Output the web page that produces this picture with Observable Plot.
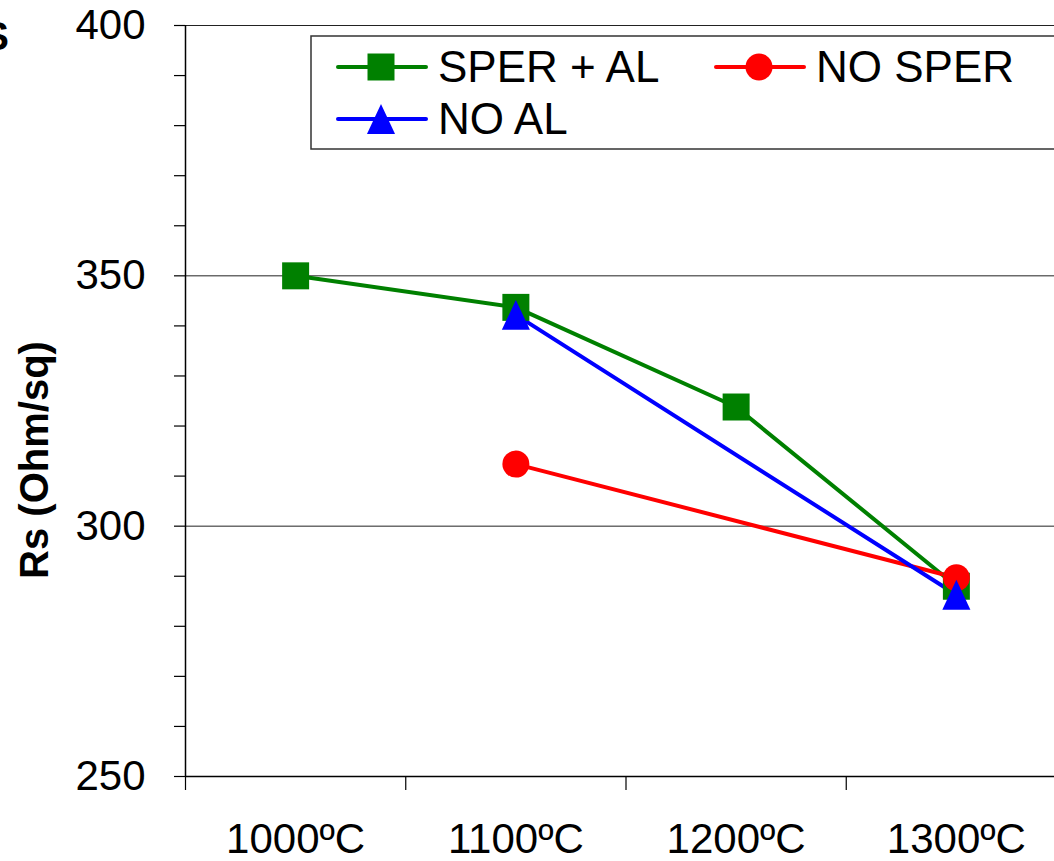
<!DOCTYPE html>
<html>
<head>
<meta charset="utf-8">
<script src="https://cdn.jsdelivr.net/npm/d3@7"></script>
<script src="https://cdn.jsdelivr.net/npm/@observablehq/plot@0.6"></script>
<style>
  html, body { margin: 0; padding: 0; background: #fff; overflow: hidden; }
  #chart { position: relative; width: 1054px; height: 861px; overflow: hidden; }
  #chart svg { max-width: none !important; width: 1066px; height: 861px; display: block; }
</style>
</head>
<body>
<div id="chart"></div>
<script>
// ---- data ----
const temps = ["1000ºC", "1100ºC", "1200ºC", "1300ºC"];
const seriesNames = ["SPER + AL", "NO SPER", "NO AL"];
const seriesColors = ["#008000", "#ff0000", "#0000ff"];
const sperAl = [350.0, 343.7, 323.8, 288.0];
const noSper = [null, 312.4, null, 289.7];
const noAl   = [null, 342.2, null, 286.3];
const yLabelTicks = [250, 300, 350, 400];
const gridValues = [300, 350, 400];
const yTitle = "Rs (Ohm/sq)";

// ---- custom symbols (size = π r²) ----
const symSquare = {draw(ctx, size) { const r = Math.sqrt(size / Math.PI); ctx.rect(-r, -r, 2 * r, 2 * r); }};
const symCircle = {draw(ctx, size) { const r = Math.sqrt(size / Math.PI); ctx.moveTo(r, 0); ctx.arc(0, 0, r, 0, 2 * Math.PI); }};
const symTriangle = {draw(ctx, size) { const r = Math.sqrt(size / Math.PI);
  ctx.moveTo(0, -1.11 * r); ctx.lineTo(1.04 * r, 1.11 * r); ctx.lineTo(-1.04 * r, 1.11 * r); ctx.closePath(); }};
const seriesSymbols = [symSquare, symCircle, symTriangle];

const seriesValues = [sperAl, noSper, noAl];
const rows = [];
seriesNames.forEach((name, s) => {
  seriesValues[s].forEach((v, i) => {
    if (v != null) rows.push({series: name, idx: i + 0.5, temp: temps[i], value: v});
  });
});

const font = "'Liberation Sans', Arial, sans-serif";
const R = 13.5;

const chart = Plot.plot({
  width: 1066,
  height: 861,
  marginLeft: 185,
  marginRight: 0,
  marginTop: 25,
  marginBottom: 85,
  style: {fontFamily: font, background: "#fff", color: "#000", maxWidth: "none"},
  x: {type: "linear", domain: [0, temps.length]},
  y: {domain: [250, 400]},
  color: {domain: seriesNames, range: seriesColors},
  symbol: {domain: seriesNames, range: seriesSymbols},
  marks: [
    Plot.ruleY(gridValues, {stroke: "#222", strokeWidth: 1}),
    Plot.axisY({
      ticks: d3.range(250, 401, 10),
      tickSize: 11,
      tickPadding: 29,
      tickFormat: d => yLabelTicks.includes(d) ? String(d) : "",
      fontSize: 42,
      label: null,
      strokeWidth: 1.2
    }),
    Plot.axisX({
      ticks: d3.range(0, temps.length),
      tickSize: 14,
      tickFormat: () => "",
      label: null,
      strokeWidth: 1.2
    }),
    Plot.axisX({
      ticks: temps.map((t, i) => i + 0.5),
      tickSize: 0,
      tickPadding: 47,
      tickFormat: d => temps[Math.round(d - 0.5)],
      fontSize: 42,
      label: null
    }),
    Plot.ruleX([0], {stroke: "#000", strokeWidth: 1.5}),
    Plot.ruleY([250], {stroke: "#000", strokeWidth: 1.5}),
    Plot.line(rows, {x: "idx", y: "value", z: "series", stroke: "series", strokeWidth: 4}),
    Plot.dot(rows, {x: "idx", y: "value", fill: "series", symbol: "series", r: R, stroke: null})
  ]
});

document.getElementById("chart").appendChild(chart);

// ---- extras: y title, clipped title fragment, legend ----
const svg = d3.select(chart);
svg.append("text")
  .attr("transform", "translate(34,460) rotate(-90)")
  .attr("text-anchor", "middle")
  .attr("dy", "0.35em")
  .style("font-family", font)
  .style("font-weight", "bold")
  .style("font-size", "40px")
  .text(yTitle);

svg.append("text")
  .attr("x", 9).attr("y", 50)
  .attr("text-anchor", "end")
  .style("font-family", font)
  .style("font-weight", "bold")
  .style("font-size", "40px")
  .text("S");

const lg = svg.append("g");
lg.append("rect")
  .attr("x", 311).attr("y", 36).attr("width", 800).attr("height", 113)
  .attr("fill", "#fff").attr("stroke", "#333").attr("stroke-width", 1.5);
const legendPos = [[338, 67], [716, 67], [338, 119]];
seriesNames.forEach((name, s) => {
  const [lx, ly] = legendPos[s];
  const g = lg.append("g");
  g.append("line").attr("x1", lx).attr("x2", lx + 88).attr("y1", ly).attr("y2", ly)
    .attr("stroke", seriesColors[s]).attr("stroke-width", 4).attr("stroke-linecap", "round");
  g.append("path").attr("d", d3.symbol(seriesSymbols[s], Math.PI * R * R)())
    .attr("transform", `translate(${lx + 43},${ly})`).attr("fill", seriesColors[s]);
  g.append("text").attr("x", lx + 100).attr("y", ly).attr("dy", "0.33em")
    .attr("text-anchor", "start")
    .style("font-family", font).style("font-size", "44px").text(name);
});
</script>
</body>
</html>
